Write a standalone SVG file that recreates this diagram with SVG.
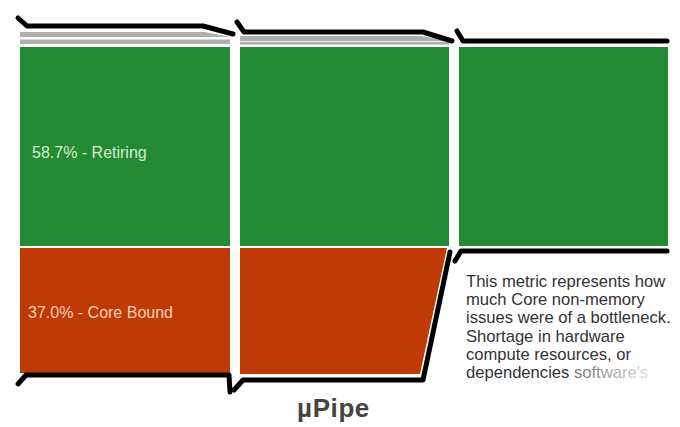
<svg xmlns="http://www.w3.org/2000/svg" width="680" height="427" viewBox="0 0 680 427">
<defs>
<style>
.g{fill:#248a34}
.r{fill:#bf3a04}
.gr{fill:#aeaeae}
.ln{fill:none;stroke:#000;stroke-width:5;stroke-linecap:round;stroke-linejoin:round}
.lbl{font-family:"Liberation Sans",Arial,sans-serif;font-size:16px}
.desc{font-family:"Liberation Sans",Arial,sans-serif;font-size:16.6px;fill:#333}
</style>
<linearGradient id="fade" gradientUnits="userSpaceOnUse" x1="565" y1="0" x2="650" y2="0">
<stop offset="0" stop-color="#666"/>
<stop offset="1" stop-color="#e0e0e0"/>
</linearGradient>
</defs>
<rect width="680" height="427" fill="#fff"/>

<g id="col1">
<polygon class="gr" points="20,32 205,32 230,37 20,37"/>
<rect class="gr" x="20" y="39.5" width="210" height="4.5"/>
<rect class="g" x="20" y="47" width="210" height="199"/>
<rect class="r" x="20" y="248" width="210" height="125"/>
<text class="lbl" x="32" y="158" fill="#d4ecce">58.7% - Retiring</text>
<text class="lbl" x="28" y="318" fill="#f8cfb8">37.0% - Core Bound</text>
</g>

<g id="col2">
<polygon class="gr" points="240,36 422,36 449,41 240,41"/>
<rect class="gr" x="240" y="41.8" width="209" height="2.8"/>
<rect class="g" x="240" y="47" width="209" height="199"/>
<polygon class="r" points="240,248 447,248 420,374 240,374"/>
</g>

<g id="col3">
<rect class="g" x="459" y="47" width="209" height="199"/>
</g>

<g id="connectors">
<polyline class="ln" points="18,18 27,26 203,26 233,34"/>
<polyline class="ln" points="237,22 244,32 423,32 452,41"/>
<polyline class="ln" points="457,31 463,41 667,41"/>
<polyline class="ln" points="18,384 26,375 229,375 230,392"/>
<polyline class="ln" points="234,390 243,380 423,380 450,252"/>
<polyline class="ln" points="455,261 461,251 667,251"/>
</g>

<g id="description">
<text class="desc" x="466" y="287">This metric represents how</text>
<text class="desc" x="466" y="305.2">much Core non-memory</text>
<text class="desc" x="466" y="323.4">issues were of a bottleneck.</text>
<text class="desc" x="466" y="341.6">Shortage in hardware</text>
<text class="desc" x="466" y="359.8">compute resources, or</text>
<text class="desc" x="466" y="378">dependencies <tspan fill="url(#fade)">software's</tspan></text>
</g>

<g id="title">
<text x="333.5" y="417" text-anchor="middle" font-family="Liberation Sans,Arial,sans-serif" font-weight="bold" font-size="26" letter-spacing="0.6" fill="#444">µPipe</text>
</g>
</svg>
